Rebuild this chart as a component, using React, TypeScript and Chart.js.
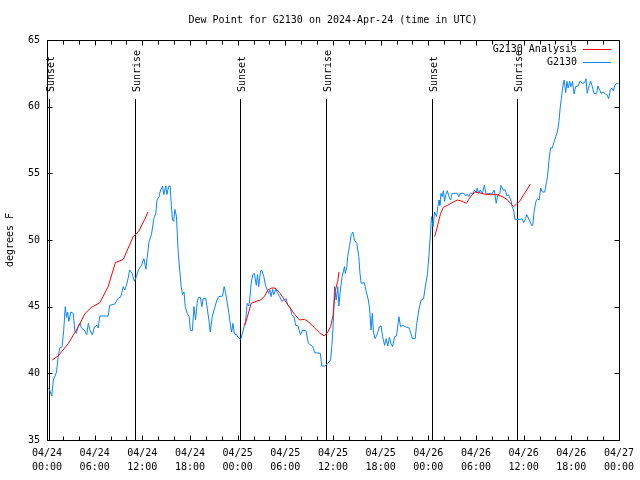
import React, { useEffect, useRef } from 'react';
import { Chart, registerables } from 'chart.js';

Chart.register(...registerables);

const FONT = '"DejaVu Sans Mono", monospace';

const titleText = 'Dew Point for G2130 on 2024-Apr-24 (time in UTC)';
const yAxisLabel = 'degrees F';
const obsLabel = 'G2130';
const anaLabel = 'G2130 Analysis';

// hours since 2024-04-24 00:00 UTC
const obsHours = [
  0.05, 0.3, 0.6, 0.8, 1.2, 1.4, 1.6, 1.9, 2.1, 2.3, 2.45, 2.6, 2.75, 3.0, 3.3, 3.5, 3.7, 3.95, 4.15, 4.35,
  4.7, 5.0, 5.2, 5.4, 5.7, 6.0, 6.3, 6.45, 6.65, 7.7, 7.9, 8.55, 8.9, 9.3, 9.6, 9.8, 10.0, 10.2, 10.4, 10.7,
  11.0, 11.25, 11.5, 11.9, 12.2, 12.45, 12.6, 12.85, 13.15, 13.45, 13.7, 13.85, 14.1, 14.3, 14.55, 14.7, 14.95, 15.1, 15.3, 15.5,
  15.65, 15.8, 15.95, 16.1, 16.3, 16.5, 16.7, 16.9, 17.05, 17.25, 17.4, 17.65, 17.9, 18.05, 18.3, 18.5, 18.7, 18.9, 19.05, 19.3,
  19.5, 19.65, 20.0, 20.2, 20.4, 20.55, 20.8, 21.1, 21.4, 21.6, 22.1, 22.3, 22.5, 22.7, 22.9, 23.1, 23.25, 23.4, 23.6, 23.85,
  24.05, 24.4, 24.7, 25.0, 25.2, 25.4, 25.5, 25.7, 25.9, 26.1, 26.35, 26.5, 26.65, 26.9, 27.05, 27.3, 27.5, 27.7, 27.9, 28.05,
  28.2, 28.4, 28.55, 28.8, 29.05, 29.3, 29.55, 29.8, 30.1, 30.3, 30.65, 30.8, 31.1, 31.3, 31.6, 31.9, 32.2, 32.6, 32.9, 33.45,
  33.7, 34.4, 34.6, 35.0, 35.35, 35.7, 35.85, 36.0, 36.2, 36.4, 36.6, 36.75, 36.9, 37.15, 37.45, 37.55, 37.75, 37.85, 38.1, 38.3,
  38.5, 38.7, 39.0, 39.25, 39.4, 39.55, 39.95, 40.2, 40.45, 40.6, 40.8, 40.95, 41.1, 41.3, 41.55, 41.85, 42.05, 42.25, 42.5, 42.7,
  42.9, 43.1, 43.3, 43.5, 43.75, 44.0, 44.3, 44.5, 44.8, 45.1, 45.6, 46.0, 46.35, 46.5, 46.8, 47.1, 47.4, 47.6, 47.9, 48.1,
  48.3, 48.4, 48.6, 48.8, 49.05, 49.2, 49.35, 49.45, 49.6, 49.75, 49.9, 50.05, 50.2, 50.4, 50.6, 50.8, 51.0, 51.65, 51.85, 52.05,
  52.5, 52.7, 52.9, 53.1, 53.3, 53.65, 53.8, 54.05, 54.15, 54.35, 54.55, 54.8, 55.05, 55.3, 55.6, 56.0, 56.3, 56.55, 56.75, 57.0,
  57.15, 57.4, 57.7, 57.9, 58.1, 58.4, 58.55, 58.75, 58.9, 59.6, 59.8, 60.0, 60.25, 60.4, 60.7, 61.0, 61.15, 61.3, 61.55, 61.75,
  61.95, 62.15, 62.35, 62.65, 62.9, 63.0, 63.25, 63.4, 63.6, 63.85, 64.05, 64.25, 64.45, 64.6, 64.75, 64.9, 65.1, 65.3, 65.45, 65.6,
  65.8, 65.95, 66.15, 66.35, 66.55, 66.85, 67.1, 67.4, 67.7, 67.85, 68.0, 68.25, 68.45, 68.65, 68.85, 69.2, 69.35, 69.6, 69.75, 70.0,
  70.3, 70.5, 70.7, 70.9, 71.1, 71.3, 71.5, 71.7, 71.95,
];

const obsValues = [
  38.9, 38.8, 38.3, 39.5, 40.1, 41.2, 41.9, 42.0, 43.2, 45.0, 44.2, 44.6, 43.9, 44.6, 44.5, 43.2, 43.0, 43.6, 43.75, 43.4,
  43.25, 42.9, 43.75, 43.25, 42.9, 43.5, 43.6, 43.4, 44.3, 44.3, 45.1, 45.2, 45.6, 45.75, 46.5, 46.25, 46.6, 47.1, 47.75, 47.5,
  46.9, 47.25, 47.75, 48.1, 48.6, 47.8, 48.6, 49.9, 50.4, 51.6, 52.0, 53.0, 53.25, 53.75, 54.05, 53.4, 54.05, 53.4, 54.0, 54.05,
  52.6, 51.5, 51.4, 52.3, 51.75, 49.25, 47.75, 46.5, 45.9, 46.1, 45.0, 44.5, 44.25, 43.2, 43.2, 45.0, 44.0, 45.25, 45.7, 45.7,
  45.0, 45.6, 45.6, 44.75, 43.9, 43.1, 44.25, 44.9, 45.5, 45.75, 45.8, 46.5, 46.0, 45.25, 44.5, 43.55, 43.1, 43.75, 42.95, 42.9,
  42.7, 42.55, 43.25, 43.9, 45.25, 45.05, 45.4, 46.75, 47.4, 47.5, 46.6, 47.4, 46.5, 47.7, 47.7, 47.25, 46.6, 46.3, 46.0, 46.25,
  45.75, 46.3, 45.9, 46.3, 46.0, 45.75, 45.4, 45.5, 45.6, 45.1, 44.9, 44.4, 44.25, 43.6, 43.55, 42.9, 43.25, 43.2, 42.25, 42.0,
  41.55, 41.5, 40.55, 40.55, 40.75, 41.0, 42.0, 43.3, 46.5, 45.5, 46.5, 45.05, 46.1, 47.25, 48.0, 47.5, 48.0, 48.75, 49.6, 50.4,
  50.6, 50.0, 49.75, 48.75, 47.5, 46.75, 46.8, 46.1, 45.5, 44.9, 43.25, 44.5, 43.1, 42.6, 42.9, 43.5, 43.55, 42.75, 42.1, 42.6,
  42.05, 42.7, 42.25, 42.0, 42.75, 42.8, 44.25, 43.5, 43.6, 43.5, 43.4, 42.6, 42.6, 43.5, 44.75, 45.5, 45.6, 46.4, 47.5, 49.0,
  50.75, 51.75, 51.0, 52.1, 51.75, 52.5, 53.0, 52.6, 53.5, 53.25, 53.7, 52.9, 53.4, 53.7, 53.25, 53.0, 53.5, 53.5, 53.25, 53.5,
  53.5, 53.3, 53.45, 53.25, 53.5, 53.5, 53.75, 53.55, 53.9, 53.5, 53.75, 53.45, 54.1, 53.4, 53.5, 53.45, 53.75, 52.75, 53.4, 53.45,
  54.1, 53.75, 53.75, 53.3, 53.4, 53.0, 52.5, 52.25, 51.55, 51.55, 51.6, 51.3, 51.6, 51.9, 51.5, 51.1, 51.1, 52.05, 52.9, 53.1,
  53.0, 53.9, 53.6, 53.6, 54.4, 54.75, 56.3, 56.9, 56.9, 57.4, 57.75, 58.1, 58.9, 59.9, 60.6, 61.4, 62.0, 61.05, 61.9, 61.4,
  61.9, 61.5, 61.9, 60.95, 61.5, 61.55, 61.9, 61.75, 61.8, 62.1, 61.0, 61.6, 61.9, 61.5, 61.0, 61.0, 61.55, 61.2, 61.0, 61.1,
  60.95, 60.9, 60.6, 61.2, 61.4, 61.2, 61.6, 61.75, 61.75,
];

// null values separate the three analysis runs
const anaHours = [
  0.67, 1.4, 2.7, 3.95, 4.8, 5.6, 6.65, 7.7, 8.6, 9.6, 10.85, 11.5, 12.3, 12.7,
  18,
  24.9, 25.4, 25.7, 26.35, 26.9, 27.4, 27.8, 28.3, 28.7, 29.3, 29.9, 30.5, 31.2, 31.8, 32.4, 32.85, 33.7, 34.3, 34.9, 35.35,
  35.7, 36.0, 36.3, 36.6, 36.75,
  42,
  48.8, 49.1, 49.55, 49.9, 50.4, 51.0, 51.65, 52.3, 52.8, 53.1, 53.5, 53.95, 54.35, 55.0, 55.8, 56.65, 57.3, 57.9, 58.35, 58.75,
  59.1, 59.5, 60.0, 60.45, 60.85,
];

const anaValues = [
  41.0, 41.3, 42.25, 43.5, 44.5, 44.95, 45.3, 46.5, 48.3, 48.55, 50.25, 50.6, 51.55, 52.1,
  null,
  43.6, 44.6, 45.25, 45.4, 45.5, 45.8, 46.25, 46.4, 46.4, 46.05, 45.5, 45.0, 44.4, 44.0, 44.05, 43.9, 43.4, 43.05, 42.8, 43.1,
  43.5, 44.3, 46.25, 46.9, 47.6,
  null,
  50.25, 50.9, 52.0, 52.45, 52.6, 52.8, 53.0, 52.9, 52.75, 53.05, 53.4, 53.6, 53.55, 53.45, 53.4, 53.4, 53.25, 53.05, 52.75, 52.5,
  52.7, 52.9, 53.4, 53.8, 54.2,
];

const eventHours = [0.25, 11.06, 24.25, 35.06, 48.5, 59.2];
const eventLabels = ['Sunset', 'Sunrise', 'Sunset', 'Sunrise', 'Sunset', 'Sunrise'];
const eventLineTop = 60.6;

const xTickDates = ['04/24', '04/24', '04/24', '04/24', '04/25', '04/25', '04/25', '04/25', '04/26', '04/26', '04/26', '04/26', '04/27'];
const xTickTimes = ['00:00', '06:00', '12:00', '18:00', '00:00', '06:00', '12:00', '18:00', '00:00', '06:00', '12:00', '18:00', '00:00'];

const RED = '#ff0000';
const BLUE = '#0a84ff';

const decoPlugin = {
  id: 'deco',
  beforeDatasetsDraw(chart: any) {
    const { ctx, chartArea: a, scales } = chart;
    const x = scales.x;
    const y = scales.y;
    ctx.save();
    ctx.strokeStyle = '#000';
    ctx.lineWidth = 1;
    ctx.font = '10px ' + FONT;
    ctx.fillStyle = '#000';
    // title centred over the plot area
    ctx.textAlign = 'center';
    ctx.textBaseline = 'middle';
    ctx.fillText(titleText, (a.left + a.right) / 2, 20);

    const top = Math.round(y.getPixelForValue(eventLineTop));
    eventHours.forEach((h, i) => {
      const px = Math.round(x.getPixelForValue(h)) + 0.5;
      ctx.beginPath();
      ctx.moveTo(px, top);
      ctx.lineTo(px, a.bottom);
      ctx.stroke();
      ctx.save();
      ctx.translate(px + 1.5, top - 7);
      ctx.rotate(-Math.PI / 2);
      ctx.textAlign = 'left';
      ctx.textBaseline = 'middle';
      ctx.fillText(eventLabels[i], 0, 0);
      ctx.restore();
    });
    ctx.restore();
  },
  afterDatasetsDraw(chart: any) {
    const { ctx, chartArea: a, scales } = chart;
    const x = scales.x;
    const y = scales.y;
    ctx.save();
    ctx.strokeStyle = '#000';
    ctx.lineWidth = 1;
    const L = Math.round(a.left) + 0.5;
    const R = Math.round(a.right) + 0.5;
    const T = Math.round(a.top) + 0.5;
    const B = Math.round(a.bottom) + 0.5;
    ctx.beginPath();
    ctx.rect(L, T, R - L, B - T);
    ctx.stroke();
    ctx.beginPath();
    for (let h = 0; h <= 72; h += 2) {
      const px = Math.round(x.getPixelForValue(h)) + 0.5;
      const len = h % 6 === 0 ? 5 : 4;
      ctx.moveTo(px, B);
      ctx.lineTo(px, B - len);
      ctx.moveTo(px, T);
      ctx.lineTo(px, T + len);
    }
    for (const t of y.ticks) {
      const py = Math.round(y.getPixelForValue(t.value)) + 0.5;
      ctx.moveTo(L, py);
      ctx.lineTo(L + 5, py);
      ctx.moveTo(R, py);
      ctx.lineTo(R - 5, py);
    }
    ctx.stroke();

    // legend
    ctx.font = '10px ' + FONT;
    ctx.fillStyle = '#000';
    ctx.textAlign = 'right';
    ctx.textBaseline = 'middle';
    const items = [
      { label: anaLabel, color: RED, yy: 49 },
      { label: obsLabel, color: BLUE, yy: 62 },
    ];
    items.forEach((it) => {
      ctx.fillText(it.label, 577, it.yy);
      ctx.strokeStyle = it.color;
      ctx.beginPath();
      ctx.moveTo(583, it.yy + 0.5);
      ctx.lineTo(611, it.yy + 0.5);
      ctx.stroke();
    });
    ctx.restore();
  },
};

export default function App() {
  const ref = useRef<HTMLCanvasElement | null>(null);
  useEffect(() => {
    document.body.style.margin = '0';
    const canvas = ref.current;
    if (!canvas) return;
    const obsData = obsHours.map((h, i) => ({ x: h, y: obsValues[i] }));
    const anaData = anaHours.map((h, i) => ({ x: h, y: anaValues[i] }));
    const chart = new Chart(canvas, {
      type: 'line',
      data: {
        datasets: [
          {
            label: anaLabel,
            data: anaData as any,
            borderColor: RED,
            borderWidth: 1,
            pointRadius: 0,
            tension: 0,
            spanGaps: false,
          },
          {
            label: obsLabel,
            data: obsData as any,
            borderColor: BLUE,
            borderWidth: 1,
            pointRadius: 0,
            tension: 0,
          },
        ],
      },
      options: {
        animation: false,
        responsive: false,
        devicePixelRatio: 1,
        layout: { padding: { left: 0, right: 20, top: 40, bottom: 0 } },
        plugins: {
          legend: { display: false },
          tooltip: { enabled: false },
          title: { display: false },
        },
        scales: {
          x: {
            type: 'linear',
            min: 0,
            max: 72,
            grid: { display: false, drawTicks: false },
            border: { display: false },
            ticks: {
              stepSize: 6,
              autoSkip: false,
              maxRotation: 0,
              color: '#000',
              padding: 6,
              font: { family: FONT, size: 10, lineHeight: 1.4 },
              callback: (v: any) => {
                const i = Math.round(Number(v) / 6);
                return [xTickDates[i], xTickTimes[i]];
              },
            },
            afterFit: (s: any) => {
              s.height = 40;
            },
          },
          y: {
            min: 35,
            max: 65,
            grid: { display: false, drawTicks: false },
            border: { display: false },
            ticks: {
              stepSize: 5,
              color: '#000',
              padding: 7,
              font: { family: FONT, size: 10 },
            },
            title: {
              display: true,
              text: yAxisLabel,
              color: '#000',
              font: { family: FONT, size: 10 },
              padding: { top: 4, bottom: 0 },
            },
            afterFit: (s: any) => {
              s.width = 47;
            },
          },
        },
      },
      plugins: [decoPlugin],
    });
    return () => chart.destroy();
  }, []);
  return <canvas ref={ref} width={640} height={480} style={{ display: 'block', width: 640, height: 480 }} />;
}
